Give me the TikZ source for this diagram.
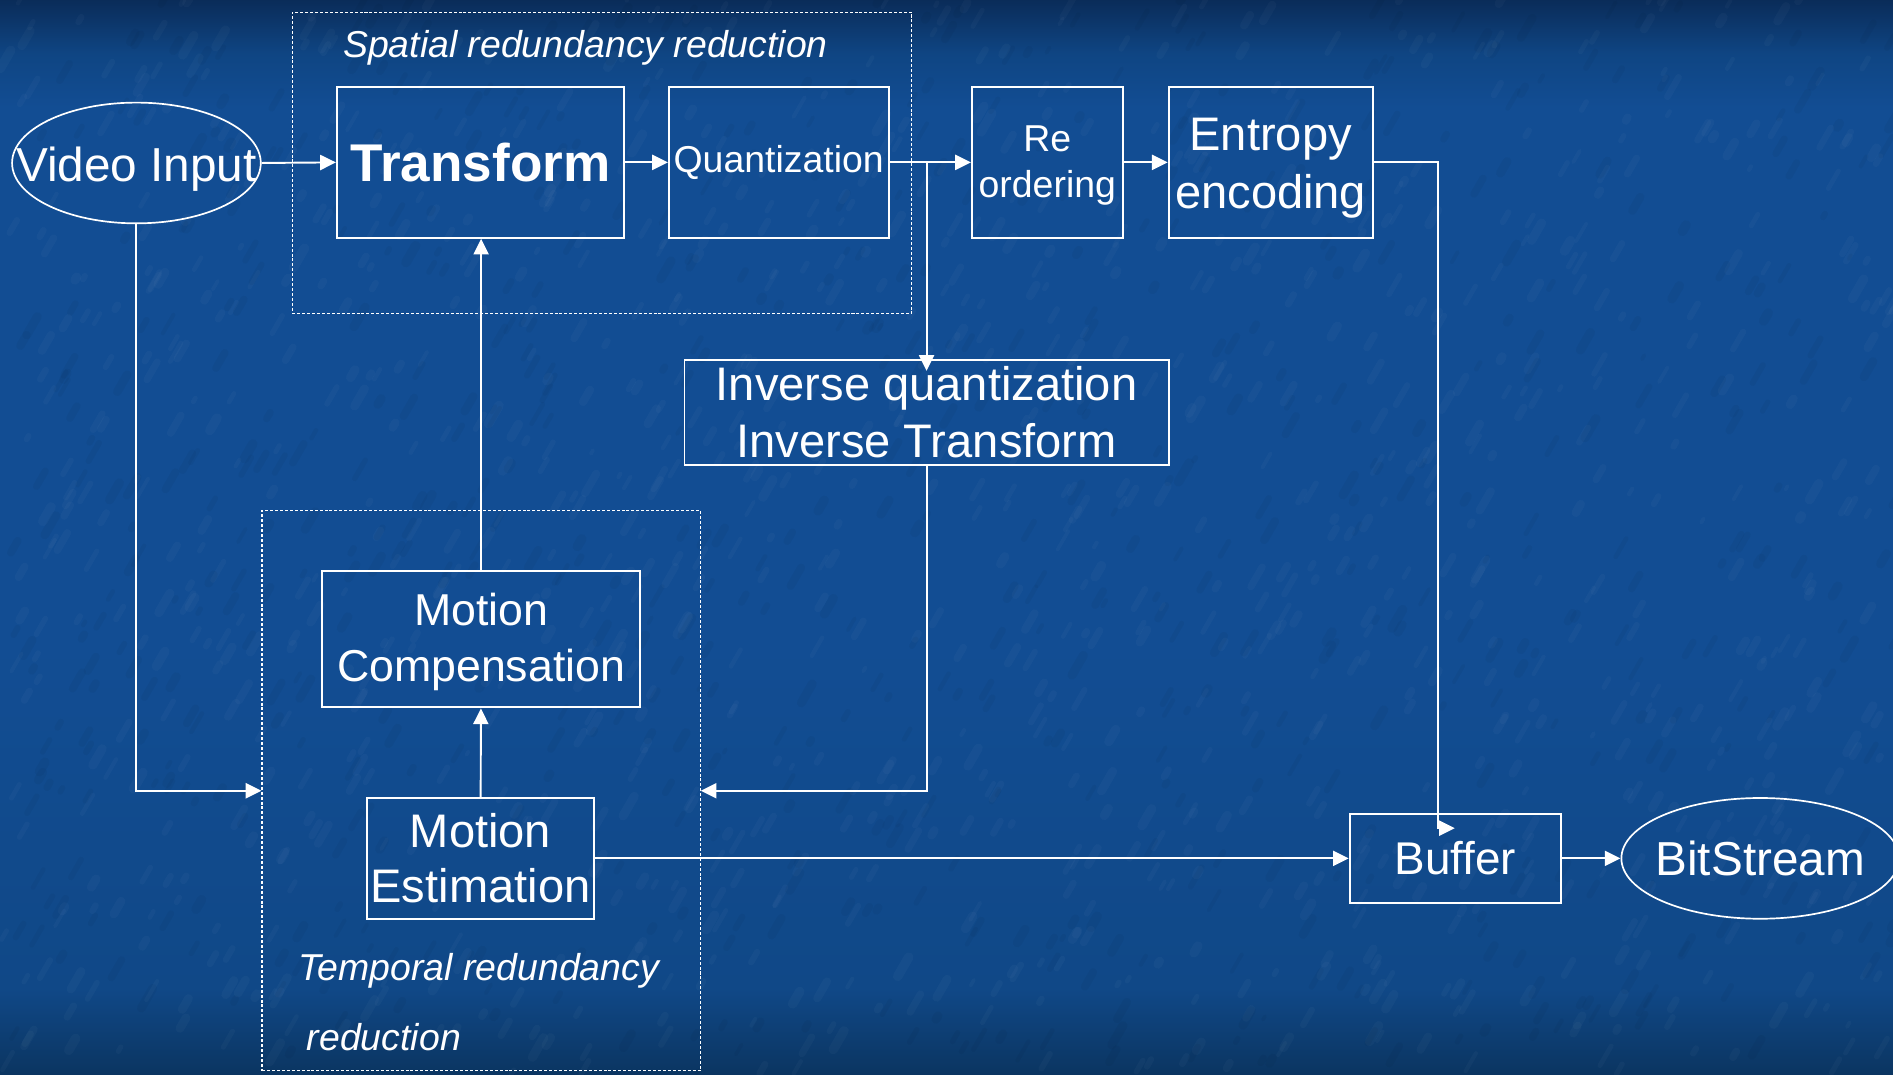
\documentclass[tikz,border=0pt]{standalone}
\usepackage{fontspec}
\setmainfont{Liberation Sans}
\usetikzlibrary{arrows.meta,shapes.geometric}

% paper-like blue backdrop: darker bands at top and bottom
\definecolor{bgbot}{HTML}{0B3561}
\definecolor{bglow}{HTML}{104887}
\definecolor{bgmid}{HTML}{124D93}
\definecolor{bghigh}{HTML}{0F4583}
\definecolor{bgtop}{HTML}{0A2C59}
\pgfdeclareverticalshading{paper}{100bp}{%
  color(0bp)=(bgbot); color(25bp)=(bgbot); color(29bp)=(bglow);
  color(45bp)=(bgmid); color(70bp)=(bgmid); color(72.5bp)=(bghigh);
  color(75bp)=(bgtop); color(100bp)=(bgtop)}

\newcommand{\fsz}[2]{\fontsize{#1}{#2}\selectfont}

\begin{document}
\begin{tikzpicture}[x=1pt,y=-1pt,
  box/.style={draw=white, line width=1.6pt, text=white, inner sep=0pt, align=center},
  oval/.style={ellipse, draw=white, line width=1.4pt, text=white, inner sep=0pt},
  group/.style={draw=white, line width=0.9pt, dash pattern=on 2.5pt off 1.6pt, inner sep=0pt},
  link/.style={white, line width=1.6pt, -{Triangle[length=13pt,width=12.5pt]}},
  note/.style={text=white, font=\fsz{31}{37}\itshape, inner sep=0pt, anchor=west},
]
% backdrop
\useasboundingbox (0,0) rectangle (1568,890);
\shade[shading=paper] (0,0) rectangle (1568,890);
\pgfmathsetseed{11}
\foreach \k in {1,...,1100}{
  \pgfmathsetmacro\px{rnd*1568}
  \pgfmathsetmacro\py{rnd*890}
  \pgfmathsetmacro\len{3+rnd*16}
  \pgfmathsetmacro\lw{3+rnd*5}
  \draw[white, opacity=0.028, line width=\lw pt, line cap=round] (\px,\py) -- ++(-60:\len);
}
\foreach \k in {1,...,700}{
  \pgfmathsetmacro\px{rnd*1568}
  \pgfmathsetmacro\py{rnd*890}
  \pgfmathsetmacro\len{3+rnd*16}
  \pgfmathsetmacro\lw{3+rnd*5}
  \draw[black, opacity=0.035, line width=\lw pt, line cap=round] (\px,\py) -- ++(-60:\len);
}

% dashed groupings
\node[group, minimum width=513, minimum height=250] (spatial) at (498.5,135) {};
\node[group, minimum width=363, minimum height=464] (temporal) at (398.5,655) {};
\node[note] (spatiallabel) at (284,40) {Spatial redundancy reduction};
\node[note] (templabel) at (247,804) {Temporal redundancy};
\node[note] (templabelb) at (254,859) {reduction};

% blocks
\node[oval, minimum width=206, minimum height=100, font=\fsz{39.5}{46}] (vin) at (113,135) {\makebox[0pt]{\raisebox{-15pt}[0pt][0pt]{Video Input}}};
\node[box, minimum width=238, minimum height=125, font=\fsz{44}{50}\bfseries] (transform) at (398,134.5) {Transform};
\node[box, minimum width=182, minimum height=125, font=\fsz{31}{36}] (quant) at (645,134.5) {Quantization};
\node[box, minimum width=125, minimum height=125, font=\fsz{31}{38}] (reord) at (867.5,134.5) {\rule{0pt}{26pt}Re\\ordering};
\node[box, minimum width=169, minimum height=125, font=\fsz{39}{48}] (entropy) at (1052.5,134.5) {\rule{0pt}{36pt}Entropy\\encoding};
\node[box, minimum width=401, minimum height=87, font=\fsz{39}{47}] (inv) at (767.5,341.5) {Inverse quantization\\Inverse Transform};
\node[box, minimum width=263, minimum height=113, font=\fsz{37}{46}] (mc) at (398.5,529.5) {\rule{0pt}{31pt}Motion\\Compensation};
\node[box, minimum width=188, minimum height=100, font=\fsz{39}{46}] (me) at (398,711) {Motion\\Estimation};
\node[box, minimum width=175, minimum height=74, font=\fsz{38}{44}] (buffer) at (1205.5,711) {Buffer};
\node[oval, minimum width=230, minimum height=100, font=\fsz{39.5}{46}] (bits) at (1458,711) {\makebox[0pt]{BitStream}};

% connectors
\draw[link] (vin.east) -- (transform.west);
\draw[link] (transform) -- (quant);
\draw[link] (quant.east) -- (reord.west);
\draw[link, shorten >=-10pt] (inv.north |- quant.east) -- (inv.north);
\draw[link] (reord) -- (entropy);
\coordinate (bufbend) at (1191,686);
\coordinate (buftip) at (1205,686);
\draw[link] (entropy.east) -| (bufbend) -- (buftip);
\draw[link] (buffer) -- (bits);
\draw[link] (me) -- (buffer);
\draw[link] (me) -- (mc);
\draw[link] (mc.north) -- (mc.north |- transform.south);
\draw[link] (vin.south) |- (temporal.west);
\draw[link] (inv.south) |- (temporal.east);
\end{tikzpicture}
\end{document}
